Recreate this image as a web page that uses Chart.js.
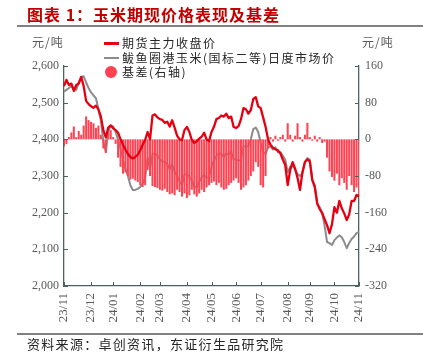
<!DOCTYPE html>
<html>
<head>
<meta charset="utf-8">
<script src="https://cdn.jsdelivr.net/npm/chart.js@4.4.1/dist/chart.umd.min.js"></script>
<style>
  body { margin: 0; background: #fff; width: 423px; height: 362px; overflow: hidden; position: relative; font-family: "Noto Sans CJK SC", sans-serif; }
  #wrap { position: absolute; left: 0; top: 0; width: 423px; height: 362px; }
  .t { position: absolute; white-space: nowrap; line-height: 14px; font-size: 12px; }
  .rule { position: absolute; left: 17px; width: 406px; height: 1.5px; background: #808080; }
  .unit { color: #595959; letter-spacing: 1px; }
  .leg { color: #262626; letter-spacing: 1.5px; }
</style>
</head>
<body>
<div id="wrap"><canvas id="chart"></canvas></div>

<div class="t" style="left:27px;top:5px;font-size:16px;line-height:18px;color:#c00000;font-weight:bold;letter-spacing:1px">图表 1：玉米期现价格表现及基差</div>
<div class="rule" style="top:25px"></div>

<div class="t unit" style="left:32px;top:35px">元/吨</div>
<div class="t unit" style="left:362px;top:35px">元/吨</div>

<div style="position:absolute;left:104px;top:42px;width:15px;height:2.5px;background:#e60012"></div>
<div class="t leg" style="left:122px;top:36px">期货主力收盘价</div>
<div style="position:absolute;left:104px;top:56.5px;width:15px;height:2.5px;background:#8c8c8c"></div>
<div class="t leg" style="left:122px;top:50.5px">鲅鱼圈港玉米(国标二等)日度市场价</div>
<div style="position:absolute;left:105px;top:66px;width:12px;height:12px;border-radius:50%;background:#ff4252"></div>
<div class="t leg" style="left:122px;top:65px">基差(右轴)</div>

<div class="rule" style="top:333px"></div>
<div class="t" style="left:27px;top:337px;font-size:13px;color:#262626;letter-spacing:1.3px">资料来源：卓创资讯，东证衍生品研究院</div>

<script>
// month tick labels and the point index where each month starts
const monthLabels = ['23/11', '23/12', '24/01', '24/02', '24/03', '24/04', '24/05', '24/06', '24/07', '24/08', '24/09', '24/10', '24/11'];
const monthStart = [0, 11, 20, 31, 39, 50, 60, 70, 80, 91, 100, 110, 120];

// 期货主力收盘价 (元/吨)
const futures = [
  2545, 2562, 2548, 2552, 2532, 2548, 2552, 2570, 2545, 2505,
  2496, 2490, 2486, 2492, 2482, 2462, 2425, 2405, 2432, 2438,
  2430, 2425, 2418, 2400, 2385, 2372, 2360, 2352, 2348, 2352,
  2358, 2370, 2385, 2398, 2420, 2400, 2465, 2468, 2460, 2455,
  2453, 2445, 2448, 2435, 2452, 2432, 2410, 2400, 2398, 2425,
  2434, 2420, 2398, 2390, 2395, 2402, 2407, 2418, 2400, 2395,
  2420, 2434, 2455, 2458, 2465, 2462, 2470, 2458, 2462, 2434,
  2431, 2436, 2455, 2485, 2482, 2470, 2480, 2510, 2515, 2490,
  2485, 2460, 2434, 2400, 2385, 2377, 2373, 2370, 2362, 2345,
  2330, 2275, 2316, 2338, 2320, 2295, 2262, 2310, 2338, 2345,
  2340, 2289, 2270, 2226, 2210, 2199, 2182, 2166, 2144, 2168,
  2215, 2200, 2232, 2212, 2198, 2180, 2195, 2232, 2232, 2248, 2245
];

// 鲅鱼圈港玉米(国标二等)日度市场价 (元/吨)
const spot = [
  2530, 2535, 2540, 2545, 2540, 2535, 2555, 2570, 2572, 2555,
  2540, 2528, 2520, 2512, 2482, 2450, 2395, 2366, 2420, 2438,
  2435, 2420, 2398, 2375, 2345, 2320, 2300, 2275, 2262, 2262,
  2265, 2270, 2280, 2295, 2350, 2320, 2360, 2362, 2355, 2345,
  2340, 2338, 2333, 2318, 2332, 2312, 2300, 2285, 2275, 2305,
  2305, 2298, 2288, 2270, 2270, 2284, 2297, 2303, 2295, 2295,
  2325, 2342, 2355, 2363, 2360, 2352, 2362, 2358, 2367, 2344,
  2346, 2341, 2345, 2380, 2382, 2380, 2400, 2428, 2432, 2420,
  2390, 2365, 2360, 2378, 2380, 2372, 2378, 2365, 2365, 2355,
  2345, 2310, 2325, 2330, 2318, 2305, 2300, 2308, 2338, 2349,
  2345, 2289, 2275, 2222, 2215, 2200, 2165, 2120, 2117, 2112,
  2125, 2132, 2138, 2133, 2120, 2103, 2117, 2128, 2135, 2144, 2147
];

// 基差 (右轴, 元/吨)
const basis = [
  -15, -10, 5, 15, 28, 5, 18, 10, 30, 50,
  42, 38, 35, 25, 30, 10, -20, -30, 15, 20,
  5, -10, -40, -60, -75, -72, -80, -88, -86, -90,
  -93, -100, -104, -100, -67, -80, -102, -104, -106, -110,
  -112, -108, -115, -120, -118, -122, -110, -115, -125, -118,
  -128, -122, -110, -120, -125, -118, -110, -115, -105, -100,
  -95, -92, -100, -95, -105, -110, -108, -100, -95, -90,
  -85, -95, -110, -105, -100, -90, -80, -70, -50, -60,
  -100, -105, -80, -20, 5, -5, 8, -3, 5, 10,
  -5, 35, 10, -5, 8, 35, 5, -5, 10, 36,
  5, -3, 8, -5, 5, -8, -5, -40, -70, -82,
  -90, -75, -100, -85, -95, -110, -80, -100, -115, -105, -120
];

// axis ranges: [min, max, step]
const priceRange = [2000, 2600, 100];
const basisRange = [-320, 160, 80];

const labels = futures.map((_, i) => {
  const k = monthStart.indexOf(i);
  return k >= 0 ? monthLabels[k] : '';
});

const axisColor = '#4a6262';
const tickFont = { family: '"Liberation Serif", "DejaVu Serif", serif', size: 12 };
const tickColor = '#595959';

// tick marks pointing into the plot
const innerTicks = {
  id: 'innerTicks',
  afterDatasetsDraw(chart) {
    const { ctx, chartArea: a, scales } = chart;
    ctx.save();
    ctx.strokeStyle = axisColor;
    ctx.lineWidth = 1;
    scales.y.ticks.forEach(t => {
      const y = Math.round(scales.y.getPixelForValue(t.value)) + 0.5;
      ctx.beginPath(); ctx.moveTo(a.left, y); ctx.lineTo(a.left + 4, y); ctx.stroke();
    });
    scales.y1.ticks.forEach(t => {
      const y = Math.round(scales.y1.getPixelForValue(t.value)) + 0.5;
      ctx.beginPath(); ctx.moveTo(a.right, y); ctx.lineTo(a.right - 4, y); ctx.stroke();
    });
    monthStart.forEach(i => {
      const x = Math.round(scales.x.getPixelForValue(i)) + 0.5;
      ctx.beginPath(); ctx.moveTo(x, a.bottom); ctx.lineTo(x, a.bottom - 4); ctx.stroke();
    });
    ctx.restore();
  }
};

new Chart(document.getElementById('chart'), {
  type: 'bar',
  data: {
    labels: labels,
    datasets: [
      {
        type: 'line',
        label: '期货主力收盘价',
        data: futures,
        borderColor: '#e60012',
        borderWidth: 2.3,
        pointRadius: 0,
        borderJoinStyle: 'round',
        yAxisID: 'y',
        order: 0
      },
      {
        type: 'line',
        label: '鲅鱼圈港玉米(国标二等)日度市场价',
        data: spot,
        borderColor: '#8c8c8c',
        borderWidth: 2,
        pointRadius: 0,
        borderJoinStyle: 'round',
        yAxisID: 'y',
        order: 2
      },
      {
        type: 'bar',
        label: '基差(右轴)',
        data: basis,
        backgroundColor: '#ff4252',
        barPercentage: 1,
        categoryPercentage: 0.82,
        yAxisID: 'y1',
        order: 1
      }
    ]
  },
  options: {
    responsive: true,
    maintainAspectRatio: false,
    animation: false,
    layout: { padding: { top: 66, left: 0, right: 0, bottom: 0 } },
    plugins: { legend: { display: false }, tooltip: { enabled: false } },
    scales: {
      x: {
        type: 'category',
        offset: false,
        grid: { display: false, drawTicks: false },
        border: { display: true, color: axisColor, width: 1.3 },
        ticks: {
          autoSkip: false,
          minRotation: 90,
          maxRotation: 90,
          padding: 7,
          font: { family: tickFont.family, size: 13 },
          color: tickColor,
          callback: (v, i) => labels[i]
        },
        afterFit: s => { s.height = 76; }
      },
      y: {
        position: 'left',
        min: priceRange[0],
        max: priceRange[1],
        grid: { display: false, drawTicks: false },
        border: { display: true, color: axisColor, width: 1.3 },
        ticks: {
          stepSize: priceRange[2],
          padding: 5,
          font: tickFont,
          color: tickColor,
          callback: v => v.toLocaleString('en-US')
        },
        afterFit: s => { s.width = 64; }
      },
      y1: {
        position: 'right',
        min: basisRange[0],
        max: basisRange[1],
        grid: { display: false, drawTicks: false },
        border: { display: true, color: axisColor, width: 1.3 },
        ticks: {
          stepSize: basisRange[2],
          padding: 6,
          font: tickFont,
          color: tickColor
        },
        afterFit: s => { s.width = 64; }
      }
    }
  },
  plugins: [innerTicks]
});
</script>
</body>
</html>
